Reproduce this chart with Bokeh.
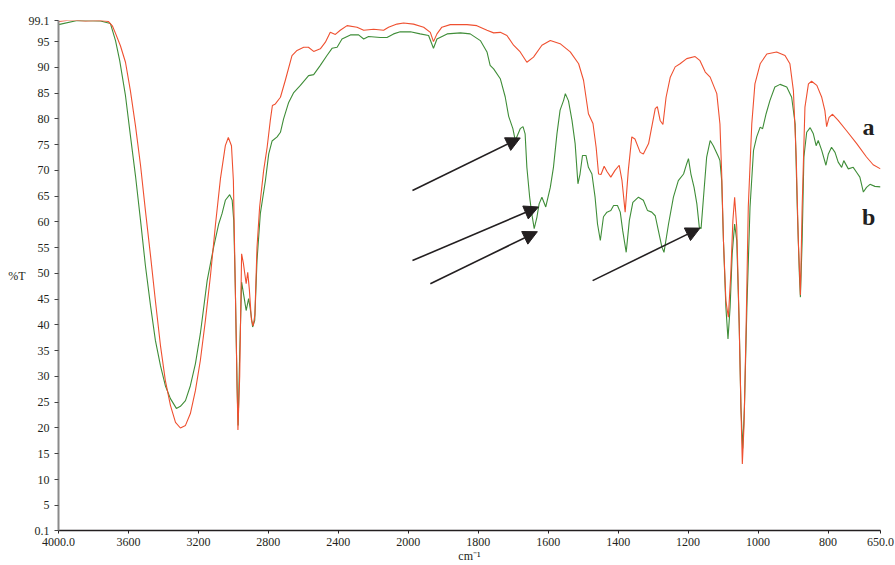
import numpy as np
from bokeh.plotting import figure
from bokeh.models import Range1d, FixedTicker, ColumnDataSource, Arrow, NormalHead
from bokeh.core.properties import value
from bokeh.embed import file_html
from bokeh.resources import INLINE

# ---------------- data ----------------
red_wn = [4000, 3931, 3846, 3760, 3714, 3691, 3674, 3646, 3617, 3589,
          3560, 3531, 3503, 3474, 3446, 3417, 3389, 3360, 3331, 3303,
          3274, 3246, 3217, 3189, 3160, 3131, 3103, 3074, 3046, 3029,
          3011, 3000, 2989, 2977, 2974, 2964, 2953, 2943, 2927, 2918,
          2909, 2897, 2887, 2877, 2865, 2850, 2827, 2807, 2789, 2777,
          2760, 2731, 2703, 2665, 2636, 2598, 2571, 2541, 2503, 2474,
          2446, 2417, 2389, 2350, 2293, 2255, 2198, 2141, 2113, 2065,
          2027, 1985, 1956, 1937, 1928, 1918, 1904, 1880, 1832, 1804,
          1775, 1756, 1737, 1718, 1699, 1680, 1661, 1642, 1618, 1594,
          1566, 1537, 1513, 1499, 1485, 1472, 1463, 1456, 1449, 1440,
          1432, 1421, 1409, 1397, 1389, 1380, 1371, 1361, 1352, 1337,
          1328, 1313, 1294, 1288, 1280, 1272, 1263, 1251, 1237, 1223,
          1204, 1180, 1166, 1151, 1137, 1118, 1109, 1104, 1099, 1092,
          1085, 1078, 1072, 1067, 1061, 1054, 1049, 1045, 1040, 1034,
          1028, 1018, 1009, 994, 975, 947, 923, 909, 899, 891,
          885, 879, 874, 866, 856, 847, 832, 818, 809, 804,
          797, 787, 771, 747, 718, 690, 671, 650]
red_t = [98.9, 99.2, 99.0, 99.1, 98.9, 98.0, 96.6, 94.2, 91.0, 85.5,
         78.7, 71.0, 62.2, 53.5, 44.7, 36.0, 29.2, 24.4, 21.1, 20.0,
         20.5, 22.8, 27.3, 33.1, 40.9, 49.6, 59.3, 68.4, 74.8, 76.4,
         74.8, 68.0, 47.0, 25.0, 19.6, 30.0, 53.8, 52.0, 48.0, 50.2,
         47.0, 41.0, 39.8, 42.0, 55.1, 62.9, 70.0, 74.5, 79.7, 82.6,
         82.9, 84.2, 87.5, 92.3, 93.3, 93.9, 93.9, 93.1, 93.6, 94.9,
         96.8, 96.4, 97.2, 98.1, 97.8, 97.2, 97.4, 97.2, 97.8, 98.4,
         98.6, 98.4, 97.8, 96.8, 95.0, 96.5, 97.8, 98.3, 98.3, 98.1,
         97.2, 96.7, 96.8, 96.2, 94.3, 93.0, 91.0, 92.0, 94.3, 95.2,
         94.6, 93.0, 90.7, 87.5, 81.0, 79.1, 74.5, 69.3, 69.2, 70.8,
         69.8, 68.7, 70.0, 71.0, 68.0, 61.9, 70.0, 76.5, 76.1, 73.5,
         73.2, 75.2, 82.0, 82.4, 79.7, 78.9, 84.2, 88.1, 90.1, 90.7,
         91.7, 92.1, 91.3, 89.1, 88.1, 84.9, 79.0, 69.3, 56.4, 44.7,
         41.5, 49.9, 60.3, 64.8, 59.0, 40.2, 24.0, 13.0, 20.8, 40.2,
         62.9, 79.0, 86.8, 90.7, 92.6, 93.0, 92.3, 90.7, 85.5, 72.6,
         56.4, 45.8, 62.9, 82.3, 86.8, 87.3, 86.5, 84.2, 81.6, 78.5,
         80.3, 80.9, 79.7, 77.7, 75.2, 72.6, 71.1, 70.3]

green_wn = [4000, 3893, 3760, 3703, 3674, 3650, 3617, 3589, 3560, 3531,
            3503, 3474, 3446, 3417, 3389, 3360, 3326, 3303, 3274, 3246,
            3217, 3189, 3150, 3113, 3084, 3065, 3046, 3021, 3007, 2998,
            2989, 2979, 2973, 2964, 2953, 2939, 2927, 2913, 2903, 2890,
            2878, 2865, 2846, 2817, 2798, 2779, 2750, 2731, 2713, 2684,
            2655, 2617, 2570, 2541, 2503, 2465, 2436, 2407, 2379, 2331,
            2284, 2255, 2227, 2160, 2122, 2084, 2046, 1994, 1966, 1942,
            1928, 1918, 1889, 1851, 1823, 1794, 1775, 1766, 1756, 1737,
            1723, 1713, 1701, 1694, 1680, 1672, 1666, 1661, 1653, 1647,
            1640, 1632, 1626, 1618, 1607, 1594, 1585, 1575, 1566, 1556,
            1551, 1542, 1532, 1523, 1515, 1509, 1502, 1492, 1485, 1475,
            1466, 1459, 1451, 1442, 1432, 1421, 1413, 1402, 1394, 1387,
            1377, 1368, 1358, 1342, 1328, 1316, 1304, 1294, 1285, 1275,
            1269, 1256, 1242, 1228, 1213, 1204, 1199, 1192, 1183, 1175,
            1168, 1163, 1156, 1147, 1137, 1128, 1113, 1109, 1104, 1099,
            1092, 1086, 1080, 1074, 1067, 1061, 1054, 1049, 1044, 1039,
            1032, 1023, 1013, 1004, 994, 987, 977, 966, 952, 937,
            918, 904, 894, 888, 882, 879, 874, 869, 861, 851,
            842, 834, 828, 818, 806, 799, 790, 780, 771, 761,
            755, 742, 728, 718, 709, 699, 690, 680, 666, 650]
green_t = [98.3, 99.1, 99.0, 98.5, 95.2, 91.3, 84.5, 76.8, 69.0, 60.3,
           51.5, 43.8, 37.0, 32.1, 28.2, 25.7, 23.8, 24.2, 25.3, 28.2,
           32.5, 38.3, 48.6, 55.1, 59.6, 61.6, 64.2, 65.3, 64.2, 60.3,
           47.3, 27.9, 20.5, 34.4, 48.3, 45.4, 42.8, 45.1, 43.0, 39.6,
           40.9, 52.5, 61.6, 68.0, 73.2, 75.7, 76.5, 77.4, 80.0, 83.2,
           85.1, 86.5, 88.4, 88.6, 90.4, 92.3, 93.7, 93.9, 95.5, 96.3,
           96.3, 95.5, 96.0, 95.8, 95.8, 96.5, 96.9, 96.9, 96.5, 96.2,
           93.7, 95.5, 96.5, 96.7, 96.5, 95.2, 93.0, 90.4, 89.7, 87.8,
           84.3, 80.5, 78.1, 75.8, 78.1, 78.5, 77.1, 70.6, 64.8, 61.6,
           58.7, 61.0, 63.5, 64.8, 62.9, 66.7, 70.6, 77.1, 81.7, 83.6,
           84.9, 83.5, 79.7, 75.2, 67.4, 69.3, 72.9, 72.9, 70.6, 69.3,
           64.8, 59.6, 56.4, 61.0, 61.9, 62.2, 63.2, 63.2, 61.9, 58.3,
           54.1, 60.3, 63.8, 64.8, 64.2, 62.2, 61.9, 61.2, 58.3, 55.1,
           54.1, 59.6, 64.8, 68.0, 69.3, 71.3, 72.3, 69.3, 66.7, 63.5,
           59.0, 58.7, 64.8, 72.6, 75.8, 74.8, 72.6, 71.9, 68.0, 56.4,
           43.4, 37.3, 43.4, 53.8, 59.6, 56.4, 40.2, 24.0, 16.0, 24.0,
           43.4, 62.9, 73.9, 76.5, 78.4, 78.1, 81.0, 83.6, 86.2, 86.7,
           86.2, 84.2, 79.0, 62.9, 49.9, 45.4, 56.4, 72.6, 77.4, 78.3,
           77.1, 74.8, 75.8, 73.9, 71.0, 73.2, 74.5, 73.5, 71.6, 70.6,
           71.9, 70.3, 70.6, 69.6, 68.7, 65.8, 66.7, 67.3, 66.9, 66.8]

x_tick_wn = [4000, 3600, 3200, 2800, 2400, 2000, 1800, 1600, 1400, 1200, 1000, 800, 650]
x_tick_labels = ["4000.0", "3600", "3200", "2800", "2400", "2000", "1800",
                 "1600", "1400", "1200", "1000", "800", "650.0"]
y_ticks = [0.1, 5, 10, 15, 20, 25, 30, 35, 40, 45, 50, 55, 60, 65, 70, 75, 80, 85, 90, 95, 99.1]
y_tick_labels = ["0.1", "5", "10", "15", "20", "25", "30", "35", "40", "45", "50",
                 "55", "60", "65", "70", "75", "80", "85", "90", "95", "99.1"]

arrow_x0 = [1988, 1988, 1937, 1473]
arrow_y0 = [66.1, 52.5, 48.0, 48.6]
arrow_x1 = [1680, 1628, 1631, 1166]
arrow_y1 = [76.3, 62.9, 58.1, 58.8]

series_labels = ["a", "b"]
series_label_x = [684, 684]
series_label_y = [78.4, 60.9]

# The spectrometer axis is compressed (2x) above 2000 cm-1
BREAK = 2000.0


def axis_pos(w):
    w = np.asarray(w, dtype=float)
    return np.where(w > BREAK, BREAK + (w - BREAK) / 2.0, w)


RED = "#ef5030"
GREEN = "#3f8d38"
INK = "#231f20"
FONT = "Liberation Serif"

p = figure(width=895, height=565, output_backend="svg", toolbar_location=None,
           x_range=Range1d(float(axis_pos(4000)), float(axis_pos(650))),
           y_range=Range1d(0.1, 99.1),
           min_border_left=58, min_border_top=20, min_border_right=15, min_border_bottom=35)
p.outline_line_color = None
p.xgrid.visible = False
p.ygrid.visible = False
p.background_fill_color = "white"

p.line(axis_pos(green_wn), green_t, line_color=GREEN, line_width=1.1)
p.line(axis_pos(red_wn), red_t, line_color=RED, line_width=1.1)

# axes
x_tick_pos = [float(v) for v in axis_pos(x_tick_wn)]
xa = p.xaxis[0]
xa.ticker = FixedTicker(ticks=x_tick_pos)
xa.major_label_overrides = dict(zip(x_tick_pos, x_tick_labels))
xa.axis_line_color = INK
xa.axis_line_width = 1.3
xa.major_tick_line_color = INK
xa.major_tick_out = 3
xa.major_tick_in = 0
xa.minor_tick_out = 0
xa.minor_tick_in = 0
xa.major_label_text_font = FONT
xa.major_label_text_font_size = "12px"
xa.major_label_text_color = INK
xa.major_label_standoff = 4
xa.axis_label = "cm\u207b\u00b9"
xa.axis_label_text_font = FONT
xa.axis_label_text_font_style = "normal"
xa.axis_label_text_font_size = "12px"
xa.axis_label_text_color = INK
xa.axis_label_standoff = 0

ya = p.yaxis[0]
ya.ticker = FixedTicker(ticks=y_ticks)
ya.major_label_overrides = dict(zip(y_ticks, y_tick_labels))
ya.axis_line_color = "#8a8a8a"
ya.axis_line_width = 2
ya.major_tick_line_color = "#444444"
ya.major_tick_out = 4
ya.major_tick_in = 0
ya.minor_tick_out = 0
ya.minor_tick_in = 0
ya.major_label_text_font = FONT
ya.major_label_text_font_size = "12px"
ya.major_label_text_color = INK
ya.major_label_standoff = 5
ya.axis_label = "%T"
ya.axis_label_orientation = "horizontal"
ya.axis_label_text_font = FONT
ya.axis_label_text_font_style = "normal"
ya.axis_label_text_font_size = "12px"
ya.axis_label_text_color = INK
ya.axis_label_standoff = 0

# arrows
arrows = ColumnDataSource(dict(x0=axis_pos(arrow_x0), y0=arrow_y0,
                               x1=axis_pos(arrow_x1), y1=arrow_y1))
p.add_layout(Arrow(end=NormalHead(size=14, fill_color=INK, line_color=INK, line_width=1),
                   x_start="x0", y_start="y0", x_end="x1", y_end="y1",
                   source=arrows, line_color=INK, line_width=1.6))

# series labels
p.text(x=axis_pos(series_label_x), y=series_label_y, text=series_labels,
       text_font=value(FONT), text_font_style="bold", text_font_size="24px",
       text_align="center", text_baseline="alphabetic", text_color=INK)

open("out.html", "w").write(file_html(p, INLINE))
